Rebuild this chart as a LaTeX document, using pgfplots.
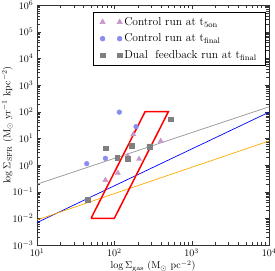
\documentclass[border=0pt]{standalone}
\usepackage{pgfplots}
\pgfplotsset{compat=1.18}
\definecolor{tri}{RGB}{200,150,205}
\definecolor{circ}{RGB}{140,140,240}
\definecolor{sq}{RGB}{128,128,128}
\definecolor{grl}{RGB}{150,150,150}
\definecolor{orl}{RGB}{255,170,0}
\begin{document}
\begin{tikzpicture}
\begin{axis}[
  name=ax,
  scale only axis,
  width=232pt, height=240pt,
  xmode=log, ymode=log,
  xmin=10, xmax=10000, ymin=1e-3, ymax=1e6,
  xtick={10,100,1000,10000},
  ytick={1e-3,1e-2,1e-1,1,10,100,1000,10000,100000,1000000},
  axis line style={line width=0.8pt, black!80},
  tick style={black!80},
  xlabel={$\log\Sigma_{\rm gas}$ ($\mathrm{M}_\odot$ pc$^{-2}$)},
  ylabel={$\log\Sigma_{\rm SFR}$ ($\mathrm{M}_\odot$ yr$^{-1}$ kpc$^{-2}$)},
  xlabel style={yshift=3pt},
  ylabel style={yshift=-7pt},
  legend style={at={(1,1)}, anchor=north east, xshift=-3pt, yshift=-7pt,
    font=\fontsize{11.5}{13}\selectfont, row sep=3pt, draw=black, line width=0.6pt, inner xsep=7pt, inner ysep=3pt},
  legend cell align=left,
  legend image code/.code={\draw[mark repeat=1,#1] plot coordinates {(0cm,0cm) (0.6cm,0cm)};},
]
\addplot[grl, line width=0.7pt, forget plot] coordinates {(10,0.1905) (10000,151.4)};
\addplot[blue, line width=0.7pt, forget plot] coordinates {(10,0.00692) (10000,95.5)};
\addplot[orl, line width=0.7pt, forget plot] coordinates {(10,0.00871) (10000,7.94)};
\addplot[only marks, mark=triangle*, mark size=3pt, color=tri, mark options={draw=tri, fill=tri}] coordinates {
(76.6,0.27) (111,0.5) (149,2.19) (176,14.2) (209,1.68) (398,7.9)};
\addlegendentry{Control run at t$_{\rm 5on}$}
\addplot[only marks, mark=*, mark size=2.4pt, color=circ, mark options={draw=circ, fill=circ}] coordinates {
(44,1.12) (76.6,1.78) (116,96) (191,27.5)};
\addlegendentry{Control run at t$_{\rm final}$}
\addplot[only marks, mark=square*, mark size=2.4pt, color=sq, mark options={draw=sq, fill=sq}] coordinates {
(45.3,0.049) (77.4,4.24) (109,1.88) (149,1.78) (169,5.3) (284,4.87) (531,51.8)};
\addlegendentry{Dual\ \ feedback run at t$_{\rm final}$}
\addplot[red, line width=1.5pt, forget plot] coordinates {(50,0.01) (100,0.01) (500,100) (250,100) (50,0.01)};
\end{axis}
\pgfresetboundingbox
\path (ax.south west) ++(-37pt,-26pt) rectangle ([shift={(6pt,5pt)}]ax.north east);
\end{tikzpicture}
\end{document}
